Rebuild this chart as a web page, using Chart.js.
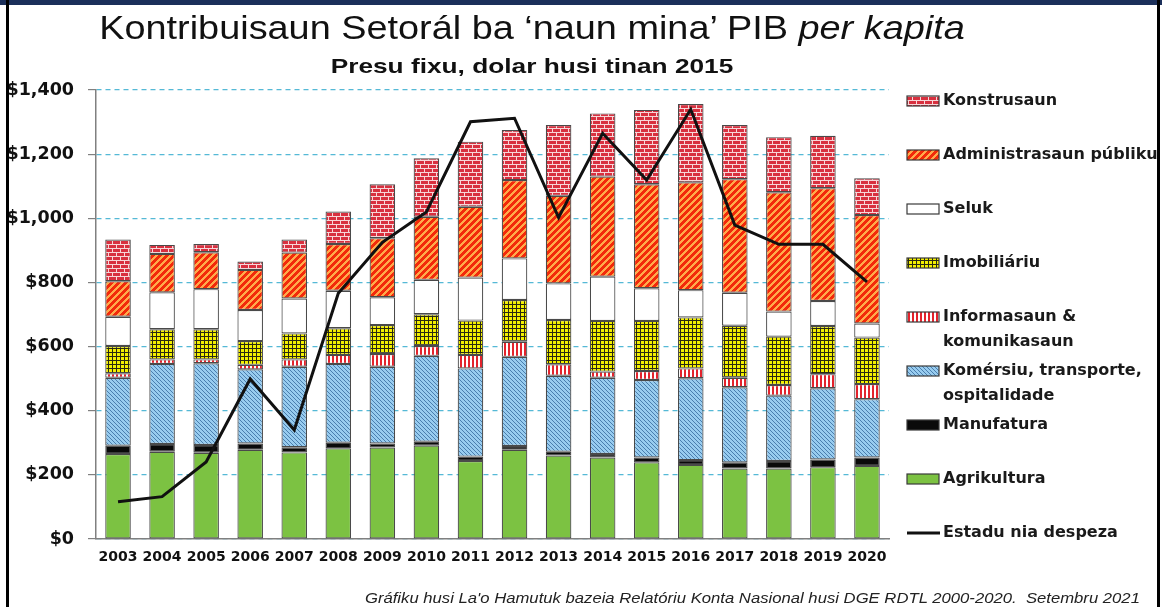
<!DOCTYPE html>
<html><head><meta charset="utf-8">
<script src="https://cdn.jsdelivr.net/npm/chart.js@4.4.1/dist/chart.umd.min.js"></script>
<style>
html,body{margin:0;padding:0;background:#fff;}
#wrap{position:relative;width:1162px;height:607px;overflow:hidden;background:#fff;}
#c{position:absolute;left:0;top:0;}
.txt{position:absolute;white-space:nowrap;color:#111;line-height:1;}
#title{left:0;width:1064px;text-align:center;top:9px;font:33px 'Liberation Sans',Arial,sans-serif;transform:scaleX(1.147);transform-origin:532px 0;}
#sub{left:0;width:1064px;text-align:center;top:54px;font:bold 21px 'Liberation Sans',Arial,sans-serif;transform:scaleX(1.25);transform-origin:532px 0;}
#foot{right:22px;top:590px;font:italic 14.5px 'Liberation Sans',Arial,sans-serif;color:#222;transform:scaleX(1.15);transform-origin:100% 0;}
#band{position:absolute;left:0;top:0;width:1162px;height:5px;background:#1b2f5a;}
#bl{position:absolute;left:6px;top:0;width:2.5px;height:607px;background:#000;}
#br{position:absolute;left:1156.5px;top:0;width:3px;height:607px;background:#000;}
</style></head>
<body>
<div id="wrap">
  <canvas id="c" width="1162" height="607"></canvas>
  <div id="title" class="txt">Kontribuisaun Setorál ba ‘naun mina’ PIB <i>per kapita</i></div>
  <div id="sub" class="txt">Presu fixu, dolar husi tinan 2015</div>
  <div id="foot" class="txt">Gráfiku husi La'o Hamutuk bazeia Relatóriu Konta Nasional husi DGE RDTL 2000-2020.&nbsp; Setembru 2021</div>
  <div id="band"></div><div id="bl"></div><div id="br"></div>
</div>
<script>
const years = ['2003','2004','2005','2006','2007','2008','2009','2010','2011','2012','2013','2014','2015','2016','2017','2018','2019','2020'];
const agrikultura   = [265,272,269,278,270,283,285,291,243,278,260,254,239,231,220,220,224,228];
const manufatura    = [26,24,24,20,16,17,13,12,14,12,12,11,15,15,19,23,24,26];
const komersiu      = [212,250,255,231,251,246,239,268,275,278,237,238,242,255,234,204,222,182];
const informasaun   = [14,14,12,14,23,28,40,31,42,47,36,19,28,31,30,33,44,47];
const imobiliariu   = [85,94,94,74,81,83,90,99,107,130,138,158,156,159,162,151,150,145];
const seluk         = [91,115,125,97,109,117,87,107,134,130,114,138,102,85,103,78,78,44];
const administrasaun= [111,120,115,125,143,146,184,197,221,244,273,312,324,336,354,372,352,338];
const konstrusaun   = [130,28,26,26,41,101,168,182,203,156,221,197,232,244,169,172,163,115];
const estaduDespeza = [116,132,240,499,340,766,925,1020,1301,1312,1002,1265,1119,1340,979,919,919,802];
const yTickLabels = ['$0','$200','$400','$600','$800','$1,000','$1,200','$1,400'];

const canvas = document.getElementById('c');
const ctx = canvas.getContext('2d');

function rgb(h){h=h.replace('#','');return [parseInt(h.substr(0,2),16),parseInt(h.substr(2,2),16),parseInt(h.substr(4,2),16)];}
function tile(w,h,fn){
  const c=document.createElement('canvas');c.width=w;c.height=h;
  const g=c.getContext('2d');const im=g.createImageData(w,h);
  for(let y=0;y<h;y++)for(let x=0;x<w;x++){const col=rgb(fn(x,y));const i=(y*w+x)*4;
    im.data[i]=col[0];im.data[i+1]=col[1];im.data[i+2]=col[2];im.data[i+3]=255;}
  g.putImageData(im,0,0);return ctx.createPattern(c,'repeat');
}
const patBrick = tile(8,8,(x,y)=>{
  if(y%4===0) return '#f7d6d8';
  if(y<4 ? x===0 : x===4) return '#f7d6d8';
  return '#d8303f';
});
const patAdmin = tile(7,7,(x,y)=> ((x+y)%7)<4 ? '#f22a0a' : '#ffaa4a');
const patKom = tile(4,4,(x,y)=> (((x-y)%4+4)%4)===0 ? '#4a7eae' : '#98ccef');
const patImob = tile(4,4,(x,y)=> (x%4===0||y%4===0) ? '#2a2a10' : '#f4f000');
const patInfo = tile(4,4,(x,y)=> (x%4)<2 ? '#e3232c' : '#ffffff');

const seriesDefs = [
  {label:['Agrikultura'], data:agrikultura, bg:'#7cc242'},
  {label:['Manufatura'], data:manufatura, bg:'#0a0a0a'},
  {label:['Komérsiu, transporte,','ospitalidade'], data:komersiu, bg:patKom},
  {label:['Informasaun &','komunikasaun'], data:informasaun, bg:patInfo},
  {label:['Imobiliáriu'], data:imobiliariu, bg:patImob},
  {label:['Seluk'], data:seluk, bg:'#ffffff'},
  {label:['Administrasaun públiku'], data:administrasaun, bg:patAdmin},
  {label:['Konstrusaun'], data:konstrusaun, bg:patBrick}
];

const datasets = seriesDefs.map(s=>({
  type:'bar', label:s.label.join(' '), lines:s.label, data:s.data,
  backgroundColor:s.bg, borderColor:'#4a4a4a', borderWidth:1.2, borderSkipped:false,
  barPercentage:0.58, categoryPercentage:1, order:1, stack:'gdp'
}));
datasets.push({type:'line', label:'Estadu nia despeza', lines:['Estadu nia despeza'], data:estaduDespeza,
  borderColor:'#111111', borderWidth:3, pointRadius:0, tension:0, fill:false, order:0, stack:'line'});

const sideLegend = {
  id:'sideLegend',
  afterDraw(chart){
    const g = chart.ctx;
    const ds = chart.data.datasets;
    const items = ds.filter(d=>d.type==='bar').slice().reverse().concat(ds.filter(d=>d.type==='line'));
    g.save();
    g.font = 'bold 16px "DejaVu Sans", sans-serif';
    g.textBaseline = 'middle';
    g.textAlign = 'left';
    items.forEach((d,i)=>{
      const y = 101 + i*54;
      if(d.type==='line'){
        g.strokeStyle = d.borderColor; g.lineWidth = 3;
        g.beginPath(); g.moveTo(907,y); g.lineTo(940,y); g.stroke();
      } else {
        g.fillStyle = d.backgroundColor; g.fillRect(907,y-5,32,10);
        g.strokeStyle = '#3a3a3a'; g.lineWidth = 1.2; g.strokeRect(907,y-5,32,10);
      }
      g.fillStyle = '#1a1a1a';
      d.lines.forEach((t,j)=> g.fillText(t, 943, y + j*25));
    });
    g.restore();
  }
};

new Chart(ctx, {
  type:'bar',
  data:{labels:years, datasets},
  plugins:[sideLegend],
  options:{
    responsive:false, animation:false, devicePixelRatio:1,
    layout:{padding:{left:0, right:273, top:90, bottom:38}},
    plugins:{legend:{display:false}, tooltip:{enabled:false}, title:{display:false}},
    scales:{
      x:{stacked:true, offset:true,
         grid:{display:false, drawTicks:false},
         border:{display:true, color:'#808080', width:1.5},
         ticks:{font:{family:'DejaVu Sans', weight:'bold', size:14}, color:'#111', padding:10, maxRotation:0, autoSkip:false},
         afterFit(s){ s.height = 30; }},
      y:{stacked:true, min:0, max:1400,
         ticks:{stepSize:200, font:{family:'DejaVu Sans', weight:'bold', size:17.5}, color:'#111', padding:14,
                callback:(v)=> yTickLabels[Math.round(v/200)]},
         grid:{color:'#55b9d6', lineWidth:1.2, tickLength:8, tickColor:'#808080', tickWidth:1.2, drawTicks:true},
         border:{display:true, color:'#808080', width:1.5, dash:[5,4]},
         afterFit(s){ s.width = 96; }}
    }
  }
});
</script>
</body></html>
